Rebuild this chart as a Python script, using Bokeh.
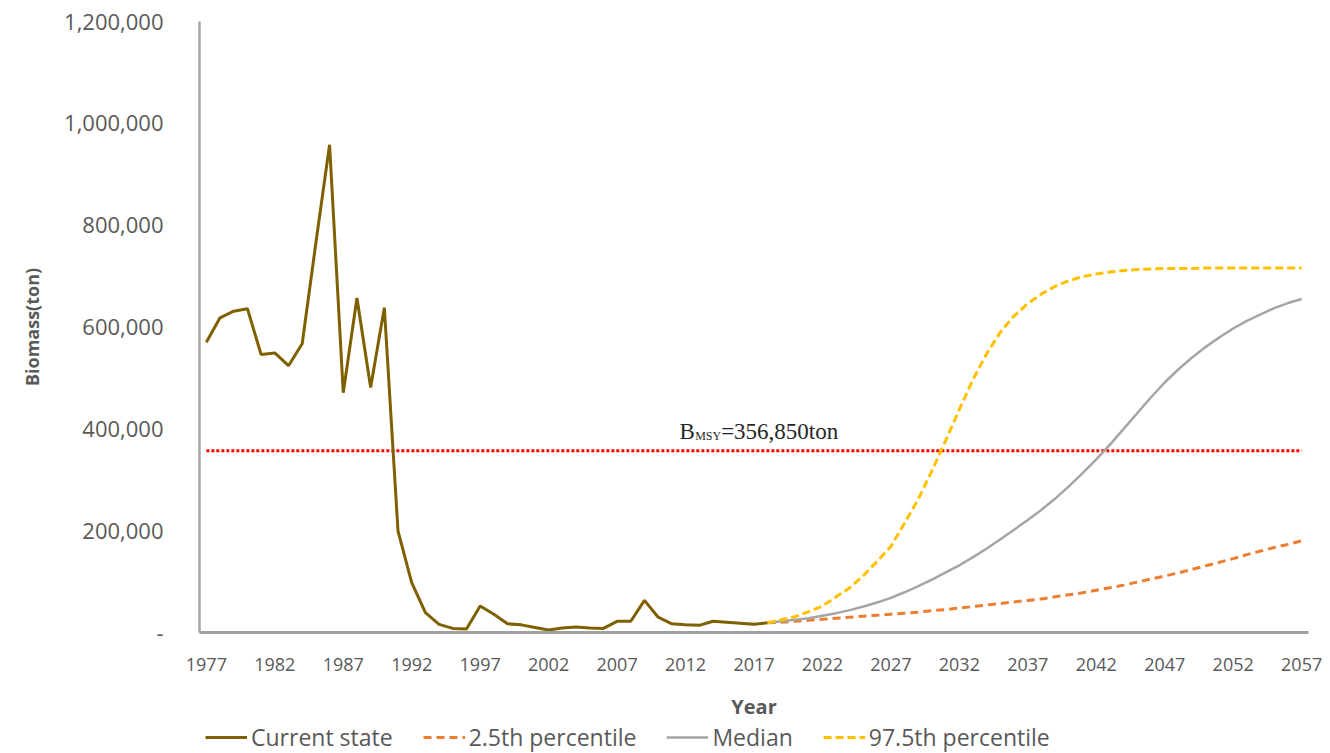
from bokeh.plotting import figure
from bokeh.models import Range1d, FixedTicker, Legend, LegendItem, Label
from bokeh.embed import file_html
from bokeh.resources import INLINE

# ---------------- data ----------------
hist_years = list(range(1977, 2019))
current_state = [570000, 618000, 631000, 636000, 546000, 549000, 524000, 567000, 765000, 958000,
                 471000, 657000, 481000, 638000, 199000, 98000, 39000, 16000, 8000, 7000,
                 52000, 36000, 17000, 15000, 10000, 5000, 9000, 11000, 9000, 8000,
                 22000, 22000, 63000, 30000, 17000, 15000, 14000, 22000, 20000, 18000,
                 16000, 19000]

proj_years = list(range(2018, 2058))
p025 = [19000, 20000, 22000, 24000, 26000, 28000, 30000, 32000, 34000, 36000,
        38000, 40000, 43000, 45000, 48000, 51000, 54000, 57000, 60000, 63000,
        66000, 70000, 74000, 78000, 83000, 88000, 93000, 99000, 105000, 111000,
        117000, 124000, 131000, 138000, 145000, 153000, 160000, 167000, 173000, 180000]
median = [19000, 22000, 25000, 28000, 33000, 38000, 44000, 51000, 59000, 68000,
          79000, 91000, 104000, 118000, 132000, 148000, 165000, 183000, 202000, 221000,
          241000, 263000, 287000, 313000, 340000, 369000, 400000, 431000, 462000, 491000,
          517000, 540000, 561000, 580000, 597000, 612000, 625000, 637000, 647000, 655000]
p975 = [19000, 25000, 31000, 41000, 52000, 70000, 88000, 112000, 140000, 169000,
        215000, 262000, 318000, 377000, 438000, 497000, 548000, 590000, 622000, 646000,
        665000, 680000, 691000, 699000, 704000, 708000, 711000, 713000, 714000, 715000,
        715000, 715000, 716000, 716000, 716000, 716000, 716000, 716000, 716000, 716000]

bmsy = 356850
all_years = list(range(1977, 2058))
x_ticks = list(range(1977, 2058, 5))
y_ticks = [0, 200000, 400000, 600000, 800000, 1000000, 1200000]
y_tick_labels = ["-", "200,000", "400,000", "600,000", "800,000", "1,000,000", "1,200,000"]
series_names = ["Current state", "2.5th percentile", "Median", "97.5th percentile"]

TEXT = "#595959"
COLORS = ["#7f6000", "#ed7d31", "#a5a5a5", "#ffc000"]
DASHES = ["solid", "8 5", "solid", "8 4"]
WIDTHS = [3, 3, 2.5, 3]

# layout geometry (pixels) of the plotting box inside the full canvas
W, H = 1330, 753
LEFT_PX, RIGHT_PX, TOP_PX, ZERO_PX = 199, 1308, 21, 632
x_lo, x_hi = all_years[0] - 0.5, all_years[-1] + 0.5          # category edges
y_max = y_ticks[-1]
kx = (x_hi - x_lo) / (RIGHT_PX - LEFT_PX)
ky = y_max / (ZERO_PX - TOP_PX)
x_start, x_end = x_lo - LEFT_PX * kx, x_hi + (W - RIGHT_PX) * kx
y_start, y_end = -(H - ZERO_PX) * ky, y_max + TOP_PX * ky

p = figure(width=W, height=H,
           x_range=Range1d(x_start, x_end), y_range=Range1d(y_start, y_end),
           output_backend="svg", toolbar_location=None, min_border=0)
p.outline_line_color = None
p.xgrid.visible = False
p.ygrid.visible = False

# axes (placed in data space so the whole canvas is one frame)
xa, ya = p.xaxis[0], p.yaxis[0]
xa.fixed_location = 0
ya.fixed_location = x_lo
xa.bounds = (x_lo, x_hi)
ya.bounds = (0, y_max)
xa.ticker = FixedTicker(ticks=x_ticks)
ya.ticker = FixedTicker(ticks=y_ticks)
ya.major_label_overrides = {t: l for t, l in zip(y_ticks, y_tick_labels)}
for ax in (xa, ya):
    ax.major_tick_line_color = None
    ax.minor_tick_line_color = None
    ax.major_label_text_color = TEXT
    ax.axis_label_text_color = TEXT
    ax.axis_label_text_font = "Open Sans"
    ax.major_label_text_font = "Open Sans"
    ax.axis_label_text_font_style = "bold"
xa.axis_line_color = "#a0a0a0"
xa.axis_line_width = 3
ya.axis_line_color = "#a6a6a6"
ya.axis_line_width = 2.5
xa.major_label_text_font_size = "18px"
ya.major_label_text_font_size = "22px"
xa.major_label_standoff = 19
ya.major_label_standoff = 30
xa.axis_label = "Year"
ya.axis_label = "Biomass(ton)"
xa.axis_label_text_font_size = "20px"
ya.axis_label_text_font_size = "18px"
xa.axis_label_standoff = 19
ya.axis_label_standoff = 17

# BMSY reference line
p.line(all_years, [bmsy] * len(all_years), line_color="#ff0000", line_width=3, line_dash="3 2")

series = [(hist_years, current_state), (proj_years, p025), (proj_years, median), (proj_years, p975)]
rends = []
for (xs, ys), c, d, w in zip(series, COLORS, DASHES, WIDTHS):
    rends.append(p.line(xs, ys, line_color=c, line_width=w, line_dash=d))

# BMSY label with subscript
lab_kw = dict(text_color="#262626", text_font="Liberation Serif", text_baseline="alphabetic")
p.add_layout(Label(x=2011.55, y=bmsy, y_offset=19, text="B", text_font_size="23px", **lab_kw))
p.add_layout(Label(x=2012.7, y=bmsy, y_offset=15, text="MSY", text_font_size="12px", **lab_kw))
p.add_layout(Label(x=2014.6, y=bmsy, y_offset=19, text="=356,850ton", text_font_size="23px", **lab_kw))

legend = Legend(items=[LegendItem(label=n, renderers=[r]) for n, r in zip(series_names, rends)],
                orientation="horizontal", location=(205, 0),
                label_text_font="Open Sans", label_text_font_size="23px", label_text_color=TEXT,
                glyph_width=42, glyph_height=20, label_height=20, label_standoff=4, spacing=30,
                padding=0, margin=0, border_line_color=None, background_fill_alpha=0)
p.add_layout(legend, "center")

open("out.html", "w").write(file_html(p, INLINE))
